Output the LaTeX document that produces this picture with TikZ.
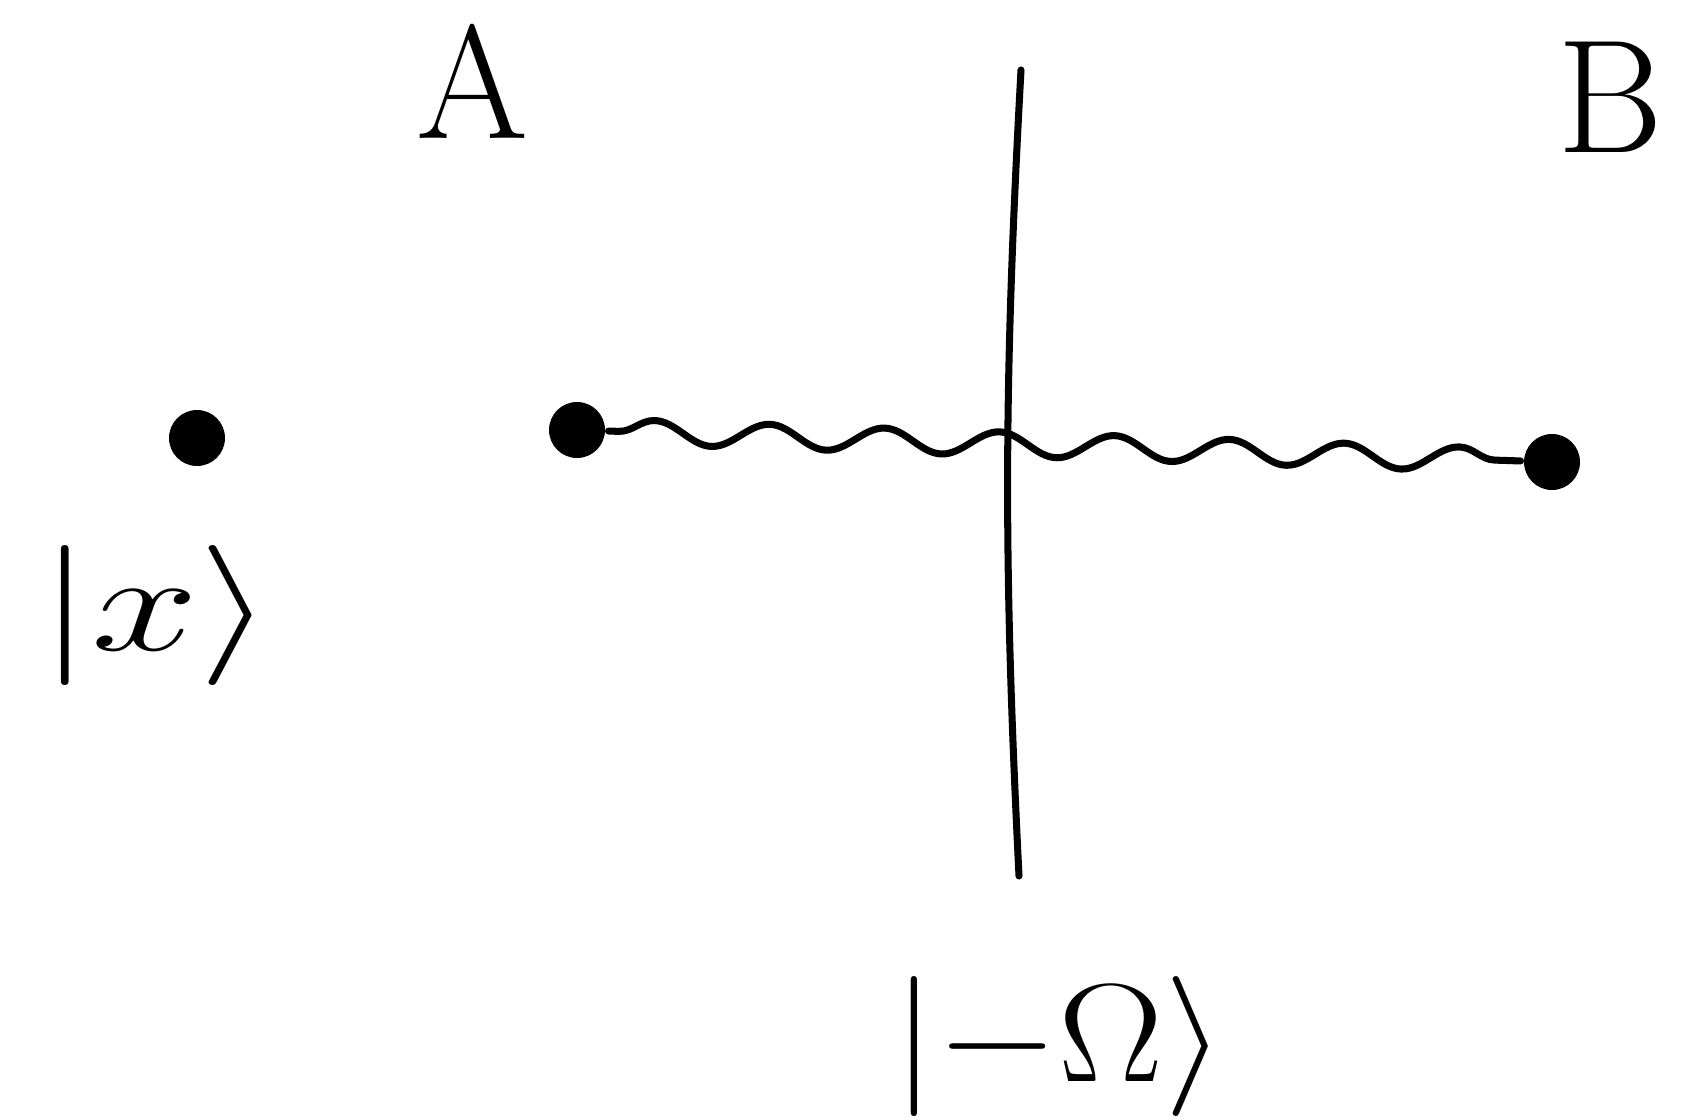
\documentclass[tikz,border=0pt]{standalone}
\usepackage{amsmath,amssymb}
\usetikzlibrary{positioning,decorations.pathmorphing}

\tikzset{
  blob/.style={circle,fill=black,inner sep=0pt,minimum size=0.56cm},
  lbl/.style={font=\fontsize{46}{50}\selectfont},
  ket/.style={font=\Huge},
  wave/.style={decorate,decoration={snake,segment length=1.15cm,amplitude=0.12cm,pre length=0.1cm,post length=0.1cm}}
}

\begin{document}
\begin{tikzpicture}[line width=2pt,line cap=round]
\useasboundingbox (0,0) rectangle (16.86,11.19);

\node[lbl] (A) at (4.73,10.38) {A};
\node[lbl] (B) at (16.10,10.22) {B};

\node[blob] (x) at (1.97,6.81) {};
\node[blob] (a) at (5.77,6.89) {};
\node[blob] (b) at (15.52,6.57) {};

\node[ket] (kx) at (1.56,5.03) {\scalebox{2.2}[1.6]{$|x\rangle$}};
\node[ket] (kw) at (10.59,0.72) {\scalebox{1.8}[1.6]{$|{-}\Omega\rangle$}};

\coordinate (top) at (10.21,10.49);
\coordinate (bot) at (10.19,2.43);

\draw (top) to[bend right=3] (bot);
\draw[wave] (a)--(b);
\end{tikzpicture}
\end{document}
